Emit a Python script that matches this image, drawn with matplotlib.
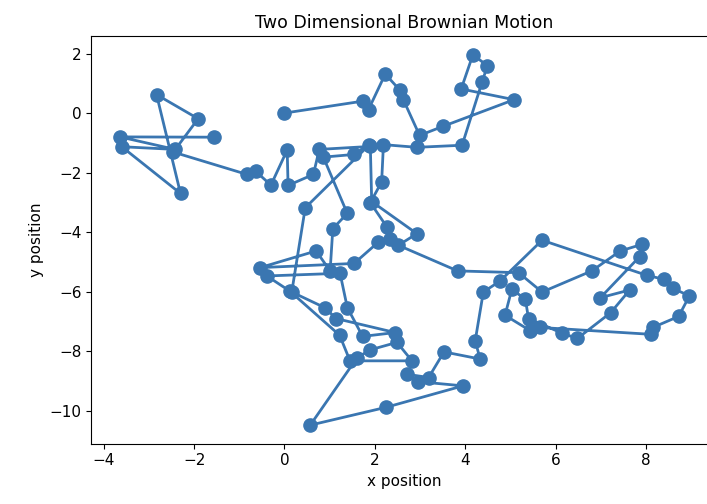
# 2D Brownian motion path
import matplotlib
matplotlib.use('Agg')
import matplotlib.pyplot as plt

# walk positions, in step order (starts at origin)
x_pos = [0.0, 1.73, 1.86, 2.23, 2.56, 2.63, 2.99, 3.50, 5.08, 3.91,
         4.17, 4.49, 4.37, 3.93, 2.93, 2.19, 2.15, 1.90, 2.26, 2.34,
         2.08, 1.54, -0.54, 0.70, 1.01, 1.07, 1.39, 0.86, 1.53, 1.88,
         0.46, 0.16, -0.39, 1.23, 1.39, 1.73, 2.45, 1.14, 0.90, 0.12,
         1.22, 1.45, 2.82, 2.49, 1.90, 1.61, 0.57, 2.25, 3.95, 2.96,
         2.71, 3.19, 3.53, 4.33, 4.22, 4.40, 4.77, 5.70, 8.02, 8.39,
         8.60, 8.96, 8.72, 8.15, 8.11, 5.66, 5.44, 4.88, 5.03, 5.33,
         5.40, 6.14, 6.48, 7.22, 7.64, 6.99, 7.86, 7.91, 7.43, 6.80,
         5.70, 5.18, 3.83, 2.52, 2.93, 1.93, 1.90, 0.77, 0.64, 0.08,
         0.06, -0.30, -0.64, -0.83, -2.46, -1.91, -2.83, -2.30, -3.60, -2.42,
         -3.64, -1.55]
y_pos = [0.0, 0.40, 0.12, 1.31, 0.76, 0.45, -0.75, -0.45, 0.45, 0.81,
         1.96, 1.59, 1.03, -1.08, -1.15, -1.06, -2.31, -3.01, -3.81, -4.24,
         -4.33, -5.05, -5.19, -4.63, -5.30, -3.88, -3.37, -1.48, -1.39, -1.06,
         -3.18, -6.02, -5.47, -5.38, -6.53, -7.50, -7.37, -6.90, -6.54, -5.98,
         -7.46, -8.32, -8.32, -7.70, -7.95, -8.21, -10.48, -9.88, -9.16, -9.02,
         -8.77, -8.88, -8.02, -8.26, -7.65, -6.01, -5.64, -4.27, -5.45, -5.58,
         -5.89, -6.14, -6.83, -7.20, -7.43, -7.20, -7.31, -6.79, -5.92, -6.25,
         -6.90, -7.39, -7.57, -6.70, -5.94, -6.20, -4.82, -4.41, -4.63, -5.30,
         -6.01, -5.36, -5.30, -4.44, -4.05, -2.97, -1.12, -1.22, -2.06, -2.43,
         -1.24, -2.42, -1.95, -2.06, -1.31, -0.19, 0.62, -2.70, -1.13, -1.22,
         -0.80, -0.81]

fig = plt.figure(figsize=(7.07, 5.04), dpi=100)
ax = fig.add_axes([0.1294, 0.1197, 0.886, 0.8085])
ax.plot(x_pos, y_pos, marker='o', color='#3a76b1', markersize=9.5, linewidth=2)

ax.set_title('Two Dimensional Brownian Motion', fontsize=12.5)
ax.set_xlabel('x position', fontsize=11)
ax.set_ylabel('y position', fontsize=11)
ax.set_xticks([-4, -2, 0, 2, 4, 6, 8])
ax.set_yticks([-10, -8, -6, -4, -2, 0, 2])
ax.tick_params(labelsize=11)

fig.savefig('out.png', dpi=100)
